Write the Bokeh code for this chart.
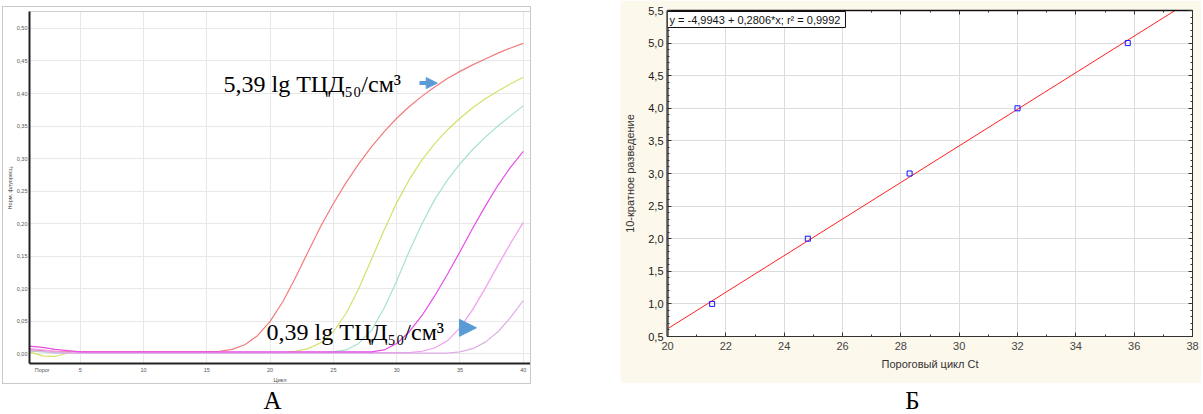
import numpy as np
from bokeh.plotting import figure
from bokeh.layouts import column, row
from bokeh.models import Range1d, FixedTicker, LinearAxis, Label, Arrow, NormalHead
from bokeh.core.properties import value
from bokeh.embed import file_html
from bokeh.resources import INLINE

# ---------------- Panel A: amplification curves ----------------
cycles = list(range(1, 41))
curve_red = [0.006, 0.005, 0.004, 0.003, 0.003, 0.003, 0.003, 0.003, 0.003, 0.003,
             0.003, 0.003, 0.003, 0.003, 0.003, 0.004, 0.007, 0.014, 0.028, 0.050,
             0.080, 0.117, 0.157, 0.196, 0.231, 0.263, 0.292, 0.318, 0.341, 0.362,
             0.380, 0.396, 0.410, 0.423, 0.434, 0.444, 0.453, 0.462, 0.470, 0.477]
curve_yellow = [0.003, -0.003, -0.004, 0.001, 0.002, 0.002, 0.002, 0.002, 0.002, 0.002,
                0.002, 0.002, 0.002, 0.002, 0.002, 0.002, 0.002, 0.002, 0.002, 0.002,
                0.002, 0.004, 0.008, 0.017, 0.034, 0.062, 0.100, 0.145, 0.190, 0.232,
                0.268, 0.298, 0.323, 0.344, 0.362, 0.378, 0.392, 0.404, 0.415, 0.425]
curve_cyan = [0.004, 0.003, 0.002, 0.002, 0.002, 0.002, 0.002, 0.002, 0.002, 0.002,
              0.002, 0.002, 0.002, 0.002, 0.002, 0.002, 0.002, 0.002, 0.002, 0.002,
              0.002, 0.002, 0.002, 0.002, 0.003, 0.006, 0.016, 0.036, 0.070, 0.112,
              0.158, 0.200, 0.237, 0.267, 0.292, 0.314, 0.333, 0.350, 0.366, 0.381]
curve_magenta = [0.012, 0.010, 0.007, 0.005, 0.003, 0.003, 0.003, 0.003, 0.003, 0.003,
                 0.003, 0.003, 0.003, 0.003, 0.003, 0.003, 0.003, 0.003, 0.003, 0.003,
                 0.003, 0.003, 0.003, 0.003, 0.003, 0.003, 0.003, 0.003, 0.006, 0.016,
                 0.034, 0.059, 0.089, 0.122, 0.157, 0.193, 0.227, 0.259, 0.287, 0.311]
curve_pink = [0.008, 0.006, 0.004, 0.002, 0.002, 0.002, 0.002, 0.002, 0.002, 0.002,
              0.002, 0.002, 0.002, 0.002, 0.002, 0.002, 0.002, 0.002, 0.002, 0.002,
              0.002, 0.002, 0.002, 0.002, 0.002, 0.002, 0.002, 0.002, 0.002, 0.002,
              0.002, 0.004, 0.009, 0.020, 0.040, 0.068, 0.101, 0.136, 0.170, 0.202]
curve_lavender = [0.005, 0.004, 0.001, 0.001, 0.001, 0.001, 0.001, 0.001, 0.001, 0.001,
                  0.001, 0.001, 0.001, 0.001, 0.001, 0.001, 0.001, 0.001, 0.001, 0.001,
                  0.001, 0.001, 0.001, 0.001, 0.001, 0.001, 0.001, 0.001, 0.001, 0.001,
                  0.001, 0.001, 0.001, 0.001, 0.003, 0.008, 0.018, 0.034, 0.056, 0.082]

a_series = [curve_red, curve_yellow, curve_cyan, curve_pink, curve_lavender, curve_magenta]
a_colors = ["#f27b7b", "#d6df69", "#a3e2d2", "#f29cf0", "#dcaee4", "#e64ee6"]

a_yticks = [0.0, 0.05, 0.10, 0.15, 0.20, 0.25, 0.30, 0.35, 0.40, 0.45, 0.50]
a_ytick_labels = ["0,00", "0,05", "0,10", "0,15", "0,20", "0,25", "0,30", "0,35", "0,40", "0,45", "0,50"]
a_xticks = [2, 5, 10, 15, 20, 25, 30, 35, 40]
a_xtick_labels = ["Порог", "5", "10", "15", "20", "25", "30", "35", "40"]
a_xlabel = "Цикл"
a_ylabel = "Норм. флуоресц."

label_hi = "5,39 lg ТЦД₅₀/см³"
label_lo = "0,39 lg ТЦД₅₀/см³"

# ---------------- Panel B: standard curve ----------------
ct = [21.53, 24.81, 28.30, 32.00, 35.78]
dilution = [1.0, 2.0, 3.0, 4.0, 5.0]
fit_intercept = -4.9943
fit_slope = 0.2806
fit_r2 = 0.9992
b_xticks = [20, 22, 24, 26, 28, 30, 32, 34, 36, 38]
b_xminor = [21, 23, 25, 27, 29, 31, 33, 35, 37]
b_yticks = [0.5, 1.0, 1.5, 2.0, 2.5, 3.0, 3.5, 4.0, 4.5, 5.0, 5.5]
b_yminor = [round(0.5 + 0.1 * i, 1) for i in range(51)]
b_xlabel = "Пороговый цикл Ct"
b_ylabel = "10-кратное разведение"
b_eq = "y = -4,9943 + 0,2806*x;  r² = 0,9992"

panel_letters = ["А", "Б"]

TINY = "Liberation Sans"

# ---- figure A ----
pA = figure(width=529, height=378, x_range=Range1d(0.99, 40.57), y_range=Range1d(-0.0148, 0.526),
            output_backend="svg", toolbar_location=None, title=None,
            min_border_left=20, min_border_right=2, min_border_top=4, min_border_bottom=22,
            background_fill_color="white", border_fill_color="white")
pA.styles = {"border": "1px solid #c9c9c9"}
pA.outline_line_color = "#cfcfcf"
for vals, col in zip(a_series, a_colors):
    pA.line(cycles, vals, line_color=col, line_width=1.2)

pA.xaxis.ticker = FixedTicker(ticks=a_xticks)
pA.xaxis.major_label_overrides = dict(zip(a_xticks, a_xtick_labels))
pA.yaxis.ticker = FixedTicker(ticks=a_yticks)
pA.yaxis.major_label_overrides = dict(zip(a_yticks, a_ytick_labels))
pA.xgrid.ticker = FixedTicker(ticks=a_xticks[1:])
pA.ygrid.ticker = FixedTicker(ticks=a_yticks)
pA.grid.grid_line_color = "#e8e8e8"
for ax in (pA.xaxis[0], pA.yaxis[0]):
    ax.axis_line_color = "#222222"
    ax.axis_line_width = 2
    ax.major_tick_in = 0
    ax.major_tick_out = 0
    ax.minor_tick_in = 0
    ax.minor_tick_out = 0
    ax.major_label_text_font = TINY
    ax.major_label_text_font_size = "5.5px"
    ax.major_label_text_color = "#555555"
    ax.axis_label_text_font = TINY
    ax.axis_label_text_font_size = "5.5px"
    ax.axis_label_text_font_style = "normal"
    ax.axis_label_text_color = "#444444"
pA.xaxis.major_label_standoff = 3
pA.xaxis.axis_label_standoff = 1
pA.xaxis.axis_label = a_xlabel
pA.yaxis.major_label_standoff = 2
pA.yaxis.axis_label_standoff = 1
pA.yaxis.axis_label = a_ylabel
pA.yaxis.major_label_orientation = "horizontal"

pA.add_layout(Label(x=16.32, y=0.414, text=label_hi, text_font="Liberation Serif",
                    text_font_size="24px", text_color="black", text_baseline="middle"))
pA.add_layout(Label(x=19.72, y=0.034, text=label_lo, text_font="Liberation Serif",
                    text_font_size="24px", text_color="black", text_baseline="middle"))
pA.add_layout(Arrow(x_start=31.8, y_start=0.416, x_end=33.2, y_end=0.416,
                    line_color="#5b9bd5", line_width=4,
                    end=NormalHead(size=11, fill_color="#5b9bd5", line_color="#5b9bd5")))
pA.add_layout(Arrow(x_start=34.96, y_start=0.040, x_end=36.3, y_end=0.040,
                    line_alpha=0, line_width=1,
                    end=NormalHead(size=17, fill_color="#5b9bd5", line_color="#5b9bd5")))

# ---- figure B ----
pB = figure(width=581, height=383, x_range=Range1d(20, 38), y_range=Range1d(0.5, 5.5),
            output_backend="svg", toolbar_location=None, title=None,
            min_border_left=47, min_border_right=9, min_border_top=10, min_border_bottom=47,
            background_fill_color="white", border_fill_color="#fdf8ec")
pB.outline_line_color = "#222222"
fit_x = [20.0, 38.0]
fit_y = [fit_intercept + fit_slope * x for x in fit_x]
pB.line(fit_x, fit_y, line_color="#ff2020", line_width=1)
pB.scatter(ct, dilution, marker="square", size=5, line_color="#1010ff", fill_color=None, line_width=1)

b_xt = FixedTicker(ticks=b_xticks, minor_ticks=b_xminor)
b_yt = FixedTicker(ticks=b_yticks, minor_ticks=b_yminor)
pB.xaxis.ticker = b_xt
pB.yaxis.ticker = b_yt
pB.xgrid.ticker = b_xt
pB.ygrid.ticker = b_yt
pB.grid.grid_line_color = "#dcdcdc"
pB.xaxis.major_label_overrides = {t: str(t) for t in b_xticks}
pB.yaxis.major_label_overrides = {t: f"{t:.1f}".replace(".", ",") for t in b_yticks}
pB.xaxis.axis_label = b_xlabel
pB.yaxis.axis_label = b_ylabel
top_ax = LinearAxis(ticker=b_xt, major_label_overrides={t: "" for t in b_xticks},
                    major_label_text_color=None, major_label_standoff=0)
right_ax = LinearAxis(ticker=b_yt, major_label_overrides={t: "" for t in b_yticks},
                      major_label_text_color=None, major_label_standoff=0)
pB.add_layout(top_ax, "above")
pB.add_layout(right_ax, "right")
for ax in pB.axis:
    ax.major_tick_in = 4
    ax.major_tick_out = 0
    ax.minor_tick_in = 2
    ax.minor_tick_out = 0
    ax.major_tick_line_color = "#333333"
    ax.minor_tick_line_color = "#333333"
    ax.axis_line_color = "#333333"
    ax.major_label_text_font = "Liberation Sans"
    ax.axis_label_text_font = "Liberation Sans"
    ax.axis_label_text_font_style = "normal"
    ax.axis_label_text_font_size = "11px"
    ax.axis_label_text_color = "#333333"
pB.xaxis[0].major_label_text_font_size = "11px"
pB.yaxis[0].major_label_text_font_size = "11px"
pB.xaxis[0].major_label_text_color = "#1a1a1a"
pB.yaxis[0].major_label_text_color = "#1a1a1a"
pB.xaxis[0].major_label_standoff = 7
pB.yaxis[0].major_label_standoff = 4
pB.xaxis[0].axis_label_standoff = 7
pB.yaxis[0].axis_label_standoff = 9
pB.yaxis[0].axis_line_width = 2.5
pB.yaxis[0].axis_line_color = "#555555"
pB.xaxis[0].axis_line_width = 1.5
pB.xaxis[0].axis_line_color = "#111111"

pB.add_layout(Label(x=20, y=5.5, text=b_eq, text_font="Liberation Sans", text_font_size="11px",
                    text_align="left", text_baseline="top", text_color="#111111",
                    x_offset=0, y_offset=-1, padding=2,
                    border_line_color="#111111", background_fill_color="white"))

# ---- letters ----
pC = figure(width=1203, height=30, x_range=Range1d(0, 1203), y_range=Range1d(0, 30),
            output_backend="svg", toolbar_location=None, title=None, min_border=0,
            background_fill_color="white", border_fill_color="white")
pC.axis.visible = False
pC.grid.visible = False
pC.outline_line_color = None
pC.text(x=[272, 912], y=[14, 14], text=panel_letters, text_font=value("Liberation Serif"),
        text_font_size="25px", text_align="center", text_baseline="middle", text_color="black")

colA = column(pA)
colA.margin = (6, 0, 0, 2)
colB = column(pB)
colB.margin = (0, 0, 0, 89)
layout = column(row(colA, colB, spacing=0), pC, spacing=0)
open("out.html", "w").write(file_html(layout, INLINE))
